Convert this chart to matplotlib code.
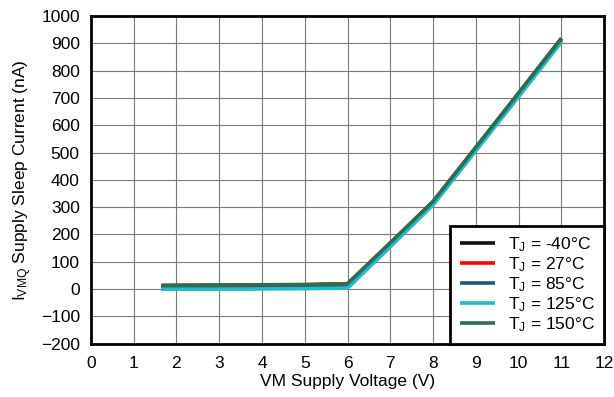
import matplotlib
matplotlib.use("Agg")
from matplotlib import pyplot as plt

plt.rcParams['font.family'] = ['Liberation Sans', 'DejaVu Sans']
plt.rcParams['mathtext.default'] = 'regular'

vm = [1.65, 3, 4, 5, 6, 7, 8, 9, 10, 11]
i_m40 = [13, 14, 15, 16, 19, 168, 320, 518, 717, 918]
i_27 = [12, 13, 14, 15, 18, 167, 318, 516, 715, 915]
i_85 = [2, 2, 3, 4, 6, 158, 312, 510, 708, 909]
i_125 = [0, 0, 1, 2, 4, 155, 308, 506, 704, 904]
i_150 = [14, 15, 16, 17, 20, 170, 321, 519, 718, 917]

labels = ["T$_J$ = -40°C", "T$_J$ = 27°C", "T$_J$ = 85°C",
          "T$_J$ = 125°C", "T$_J$ = 150°C"]
colors = ["#111111", "#ff0000", "#1d5a6e", "#1fbccc", "#2e6e4e"]

fig = plt.figure(figsize=(6.14, 3.97), dpi=100)
ax = fig.add_axes([0.148, 0.134, 0.836, 0.826])

for ys, lab, c in zip([i_m40, i_27, i_85, i_125, i_150], labels, colors):
    ax.plot(vm, ys, color=c, lw=2.6, label=lab, solid_capstyle='butt')

ax.set_xlim(0, 12)
ax.set_ylim(-200, 1000)
ax.set_xticks(range(0, 13))
ax.set_yticks(range(-200, 1001, 100))
ax.grid(color='#7a7a7a', linewidth=0.8)
ax.tick_params(axis='both', length=0, labelsize=12.5)
ax.tick_params(axis='x', pad=9)
ax.tick_params(axis='y', pad=8)
for s in ax.spines.values():
    s.set_linewidth(2)
    s.set_color('black')

ax.set_xlabel("VM Supply Voltage (V)", fontsize=12.5, labelpad=2)
ax.set_ylabel("I$_{VMQ}$ Supply Sleep Current (nA)", fontsize=12.5, labelpad=5)

leg = ax.legend(loc='lower right', fontsize=12.5, fancybox=False,
                edgecolor='black', framealpha=1, borderaxespad=0,
                handlelength=2.0, handletextpad=0.75, labelspacing=0.08,
                borderpad=0.55)
leg.get_frame().set_linewidth(2)

fig.savefig("out.png", dpi=100)
